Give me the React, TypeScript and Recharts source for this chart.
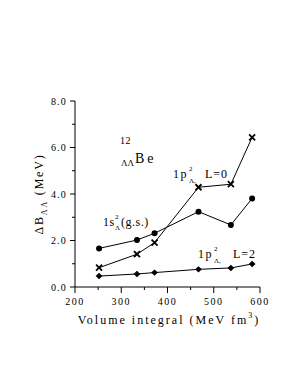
import { LineChart, Line, XAxis, YAxis } from "recharts";

const volume = [252, 334, 372, 467, 537, 583];
const gs = [1.66, 2.02, 2.31, 3.24, 2.67, 3.81];
const pL0 = [0.83, 1.41, 1.91, 4.29, 4.42, 6.44];
const pL2 = [0.47, 0.56, 0.62, 0.76, 0.82, 0.99];

const xTicks = [200, 250, 300, 350, 400, 450, 500, 550, 600];
const yTicks = [0, 1, 2, 3, 4, 5, 6, 7, 8];

const data = volume.map((v, i) => ({ v, gs: gs[i], pL0: pL0[i], pL2: pL2[i] }));

const FONT = "Liberation Serif";
const TICK_MARGIN = 8;

const XTick = (props: any) => {
  const { x, y, payload } = props;
  const ay = y - TICK_MARGIN;
  const major = payload.value % 100 === 0;
  return (
    <g>
      <line x1={x} x2={x} y1={ay} y2={ay + (major ? 6 : 3)} stroke="#000" />
      {major && (
        <text x={x} y={ay + 18} textAnchor="middle" fontSize={10} style={{ fontFamily: FONT }} letterSpacing={1.5} fill="#000">
          {payload.value}
        </text>
      )}
    </g>
  );
};

const YTick = (props: any) => {
  const { x, y, payload } = props;
  const ax = x + TICK_MARGIN;
  const major = payload.value % 2 === 0;
  return (
    <g>
      <line x1={ax - (major ? 5 : 3)} x2={ax} y1={y} y2={y} stroke="#000" />
      {major && (
        <text x={ax - 8} y={y} dy="0.35em" textAnchor="end" fontSize={10} style={{ fontFamily: FONT }} letterSpacing={1.2} fill="#000">
          {payload.value.toFixed(1)}
        </text>
      )}
    </g>
  );
};

const Circle = (p: any) => <circle key={p.index} cx={p.cx} cy={p.cy} r={3} fill="#000" />;
const Cross = (p: any) => (
  <g key={p.index} stroke="#000" strokeWidth={1.8}>
    <line x1={p.cx - 3} y1={p.cy - 3} x2={p.cx + 3} y2={p.cy + 3} />
    <line x1={p.cx - 3} y1={p.cy + 3} x2={p.cx + 3} y2={p.cy - 3} />
  </g>
);
const Diamond = (p: any) => (
  <polygon
    key={p.index}
    points={`${p.cx},${p.cy - 3.2} ${p.cx + 3.4},${p.cy} ${p.cx},${p.cy + 3.2} ${p.cx - 3.4},${p.cy}`}
    fill="#000"
  />
);

export default function App() {
  return (
    <div style={{ position: "absolute", left: 0, top: 0, width: 305, height: 377, background: "#fff" }}>
      <LineChart width={305} height={377} data={data} margin={{ top: 101, right: 45, bottom: 60, left: 15 }}>
        <XAxis
          dataKey="v"
          type="number"
          domain={[200, 600]}
          ticks={xTicks}
          interval={0}
          tickSize={0}
          tickMargin={TICK_MARGIN}
          tick={<XTick />}
          height={30}
          stroke="#000"
        />
        <YAxis
          type="number"
          domain={[0, 8]}
          ticks={yTicks}
          interval={0}
          tickSize={0}
          tickMargin={TICK_MARGIN}
          tick={<YTick />}
          width={60}
          stroke="#000"
        />
        <Line dataKey="gs" stroke="#000" strokeWidth={1} dot={Circle} isAnimationActive={false} />
        <Line dataKey="pL0" stroke="#000" strokeWidth={1} dot={Cross} isAnimationActive={false} />
        <Line dataKey="pL2" stroke="#000" strokeWidth={1} dot={Diamond} isAnimationActive={false} />
      </LineChart>
      <svg
        width={305}
        height={377}
        style={{ position: "absolute", left: 0, top: 0, pointerEvents: "none", fontFamily: FONT }}
        fill="#000"
      >
        <text x={43} y={194} transform="rotate(-90 43 194)" textAnchor="middle" fontSize={12} letterSpacing={1.8}>
          ΔB
          <tspan fontSize={8} dy={4}>ΛΛ</tspan>
          <tspan fontSize={12} dy={-4}> (MeV)</tspan>
        </text>
        <text x={169} y={324} textAnchor="middle" fontSize={12} letterSpacing={2}>
          Volume integral (MeV fm
          <tspan fontSize={8} dy={-6}>3</tspan>
          <tspan fontSize={12} dy={6}>)</tspan>
        </text>

        <text x={120} y={144} fontSize={10} letterSpacing={0.5}>12</text>
        <text x={121} y={166} fontSize={9}>ΛΛ</text>
        <text x={135} y={163} fontSize={14} letterSpacing={3}>Be</text>

        <text x={103} y={226} fontSize={12} letterSpacing={0.5}>1s</text>
        <text x={115} y={219} fontSize={7}>2</text>
        <text x={115} y={230} fontSize={7}>Λ</text>
        <text x={121} y={226} fontSize={12} letterSpacing={0.5}>(g.s.)</text>

        <text x={173} y={178} fontSize={12} letterSpacing={1.5}>1p</text>
        <text x={189} y={171} fontSize={7}>2</text>
        <text x={189} y={183} fontSize={7}>Λ,</text>
        <text x={205} y={178} fontSize={12} letterSpacing={1}>L=0</text>

        <text x={198} y={258} fontSize={12} letterSpacing={1.5}>1p</text>
        <text x={214} y={251} fontSize={7}>2</text>
        <text x={214} y={263} fontSize={7}>Λ,</text>
        <text x={233} y={258} fontSize={12} letterSpacing={1}>L=2</text>
      </svg>
    </div>
  );
}
